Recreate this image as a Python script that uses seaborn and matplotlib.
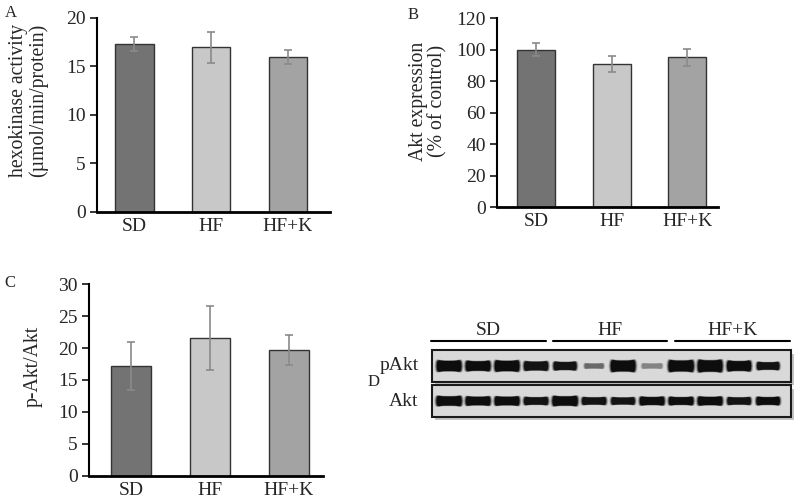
import numpy as np
import pandas as pd
import matplotlib
matplotlib.use("Agg")
import matplotlib.pyplot as plt
import seaborn as sns
from matplotlib.patches import Rectangle, Polygon

# =========================================================
# 데이터
# =========================================================
groups = ["SD", "HF", "HF+K"]

hk_mean = [17.3, 17.0, 16.0]
hk_err = [0.7, 1.6, 0.7]

akt_mean = [100, 91, 95]
akt_err = [4.0, 5.0, 5.5]

ratio_mean = [17.2, 21.5, 19.7]
ratio_err = [3.7, 5.0, 2.3]

# western blot (lane 12개, SD/HF/HF+K 각 4개)
blot_rows = ["pAkt", "Akt"]
pakt_intensity = [1.0, 1.0, 1.0, 0.97, 0.97, 0.55, 1.0, 0.42, 1.0, 1.0, 1.0, 0.97]
pakt_thick = [0.40, 0.37, 0.40, 0.34, 0.31, 0.19, 0.42, 0.19, 0.42, 0.44, 0.38, 0.29]
pakt_width = [0.86, 0.86, 0.86, 0.84, 0.80, 0.66, 0.86, 0.70, 0.88, 0.86, 0.84, 0.78]
akt_intensity = [1.0, 1.0, 1.0, 0.97, 1.0, 0.97, 0.97, 1.0, 1.0, 1.0, 0.97, 1.0]
akt_thick = [0.36, 0.33, 0.33, 0.29, 0.36, 0.28, 0.27, 0.31, 0.30, 0.32, 0.28, 0.30]
akt_width = [0.88, 0.86, 0.86, 0.84, 0.88, 0.84, 0.82, 0.86, 0.86, 0.86, 0.82, 0.82]

# 그룹 라인 (lane 좌표)
group_line_start = [-0.62, 3.59, 7.79]
group_line_end = [3.34, 7.52, 11.76]

# =========================================================
# 스타일
# =========================================================
sns.set_style("ticks")
plt.rcParams["font.family"] = ["Liberation Serif", "DejaVu Serif"]
plt.rcParams["font.size"] = 13

BAR_COLORS = ["#737373", "#c8c8c8", "#a3a3a3"]
EDGE = "#333333"
ERR = "#8a8a8a"
TICK_FS = 14
LABEL_FS = 14.2

fig = plt.figure(figsize=(8.0, 4.98), dpi=100)


def bar_panel(rect, means, errs, ymax, step, ylabel, xlim, label_xy):
    ax = fig.add_axes(rect)
    df = pd.DataFrame({"group": groups, "value": means})
    sns.barplot(
        data=df, x="group", y="value", hue="group", palette=BAR_COLORS,
        legend=False, width=0.5, edgecolor=EDGE, linewidth=1.0, ax=ax
    )
    ax.errorbar(range(len(groups)), means, yerr=errs, fmt="none",
                ecolor=ERR, elinewidth=1.2, capsize=3, capthick=1.2, zorder=5)
    ax.set_ylim(0, ymax)
    ax.set_xlim(*xlim)
    ax.set_yticks(np.arange(0, ymax + 1, step))
    ax.set_xlabel("")
    ax.set_ylabel(ylabel, fontsize=LABEL_FS, linespacing=1.05)
    ax.yaxis.set_label_coords(*label_xy)
    ax.tick_params(axis="y", labelsize=TICK_FS, length=5, width=1.3,
                   direction="out", pad=3)
    ax.tick_params(axis="x", labelsize=TICK_FS, length=0, pad=4)
    for s in ["top", "right"]:
        ax.spines[s].set_visible(False)
    ax.spines["left"].set_linewidth(1.5)
    ax.spines["bottom"].set_linewidth(2.0)
    ax.spines["left"].set_color("black")
    ax.spines["bottom"].set_color("black")
    return ax


# =========================================================
# A, B, C 막대 그래프
# =========================================================
bar_panel([0.12125, 0.5743, 0.291, 0.3896], hk_mean, hk_err, 20, 5,
          "hexokinase activity\n(µmol/min/protein)", (-0.487, 2.545), (-0.21, 0.575))
bar_panel([0.621, 0.5843, 0.276, 0.3795], akt_mean, akt_err, 120, 20,
          "Akt expression\n(% of control)", (-0.523, 2.40), (-0.222, 0.56))
bar_panel([0.11125, 0.0442, 0.2925, 0.3855], ratio_mean, ratio_err, 30, 5,
          "p-Akt/Akt", (-0.53, 2.43), (-0.20, 0.57))

fig.text(0.006, 0.99, "A", fontsize=12, va="top")
fig.text(0.510, 0.985, "B", fontsize=12, va="top")
fig.text(0.006, 0.447, "C", fontsize=12, va="top")
fig.text(0.459, 0.250, "D", fontsize=12, va="top")

# =========================================================
# D western blot
# =========================================================
axd = fig.add_axes([360 / 800, 1 - 440 / 498, 440 / 800, 120 / 498])
axd.set_xlim(-3.07, 12.1)
axd.set_ylim(2.114, -1.314)
axd.axis("off")

BOX_BG = np.array([0.85, 0.85, 0.85])


def band(ax, x0, y0, w, h, inten):
    xs = np.linspace(-1, 1, 80)
    hh = 0.5 * h * (0.72 + 0.42 * xs ** 4) * np.sqrt(np.clip(1 - xs ** 8, 0, 1))
    col = BOX_BG * (1 - inten) + np.array([0.05, 0.05, 0.05]) * inten
    for scale, a in [(1.16, 0.22), (1.08, 0.45), (1.0, 1.0)]:
        px = x0 + xs * w / 2 * scale
        top = y0 - hh * scale
        bot = y0 + hh * scale
        verts = np.column_stack([np.r_[px, px[::-1]], np.r_[top, bot[::-1]]])
        ax.add_patch(Polygon(verts, closed=True, facecolor=col, edgecolor="none",
                             alpha=a, zorder=3))


lanes = np.arange(12)
for r, (inten, thick, wid) in enumerate([
    (pakt_intensity, pakt_thick, pakt_width),
    (akt_intensity, akt_thick, akt_width),
]):
    # 그림자
    axd.add_patch(Rectangle((-0.59 + 0.1, r - 0.45 + 0.1), 12.38, 0.9,
                            facecolor="#c4c4c4", edgecolor="none", zorder=1))
    axd.add_patch(Rectangle((-0.59, r - 0.45), 12.38, 0.9,
                            facecolor=BOX_BG, edgecolor="#1a1a1a", linewidth=1.5, zorder=2))
    for i in lanes:
        band(axd, i, r, wid[i], thick[i], inten[i])
    axd.text(-1.05, r, blot_rows[r], ha="right", va="center", fontsize=TICK_FS)

for g, name in enumerate(groups):
    axd.plot([group_line_start[g], group_line_end[g]], [-0.714, -0.714],
             color="black", linewidth=1.5)
    axd.text((group_line_start[g] + group_line_end[g]) / 2, -0.78, name,
             ha="center", va="bottom", fontsize=TICK_FS)

fig.savefig("out.png", dpi=100)
